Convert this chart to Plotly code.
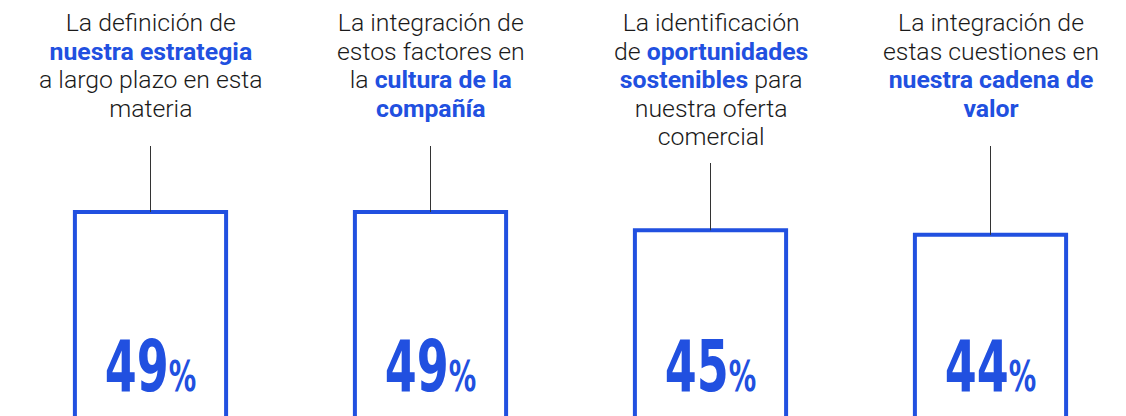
import plotly.graph_objects as go

BLUE = "#2150E0"

categorias = ["estrategia", "cultura", "oportunidades", "cadena"]
valores = [49, 49, 45, 44]
etiquetas = [
    "La definición de<br><b>nuestra estrategia</b><br>a largo plazo en esta<br>materia",
    "La integración de<br>estos factores en<br>la <b>cultura de la</b><br><b>compañía</b>",
    "La identificación<br>de <b>oportunidades</b><br><b>sostenibles</b> para<br>nuestra oferta<br>comercial",
    "La integración de<br>estas cuestiones en<br><b>nuestra cadena de</b><br><b>valor</b>",
]

W, H = 1126, 416
Y0, Y1 = 4.18, 95.6


def px_to_y(p):
    # pixel vertical (desde arriba) -> valor del eje
    return Y0 + (H - p) / H * (Y1 - Y0)


fig = go.Figure()
fig.add_trace(go.Bar(
    x=list(range(len(categorias))), y=valores,
    width=0.54,
    marker=dict(color="white", line=dict(color=BLUE, width=4)),
    hoverinfo="skip",
))

for i, (v, txt) in enumerate(zip(valores, etiquetas)):
    # los tramos en negrita van en azul; cada línea algo más grande que el interlineado
    txt = txt.replace("<b>", f"<b><span style='color:{BLUE}'>").replace("</b>", "</span></b>")
    lineas = txt.split("<br>")
    txt = "<br>".join(f"<span style='font-size:24.8px'>{l}</span>" for l in lineas)
    fig.add_annotation(x=i, y=1, yref="paper", yanchor="top", yshift=-6,
                       text=txt, showarrow=False, align="center",
                       font=dict(family="Roboto", size=22, color="#1a1a1a", weight=300))
    top_px = {4: 146, 5: 163}[len(lineas)]
    fig.add_shape(type="line", x0=i, x1=i, y0=v, y1=px_to_y(top_px),
                  xref="x", yref="y", line=dict(color="#333", width=1))
    fig.add_annotation(x=i, y=px_to_y(394), yanchor="bottom", showarrow=False,
                       yshift=-16,
                       text=f"{v}<span style='font-size:43px'>%</span>",
                       font=dict(family="DejaVu Sans Condensed", size=72,
                                 color=BLUE, weight="bold"))

fig.update_layout(
    width=W, height=H,
    margin=dict(l=0, r=0, t=0, b=0),
    plot_bgcolor="white", paper_bgcolor="white",
    showlegend=False,
    xaxis=dict(range=[-150.5 / 280, (W - 150.5) / 280], visible=False),
    yaxis=dict(range=[Y0, Y1], visible=False),
)

post = """
document.body.style.margin = '0';
document.querySelectorAll('.annotation-text').forEach(function (t) {
  if (t.textContent.indexOf('%') >= 0) {
    t.style.transformBox = 'fill-box';
    t.style.transformOrigin = 'center';
    t.style.transform = 'scaleX(0.71)';
  }
});
"""

fig.write_html("out.html", post_script=post, config={"displayModeBar": False})
